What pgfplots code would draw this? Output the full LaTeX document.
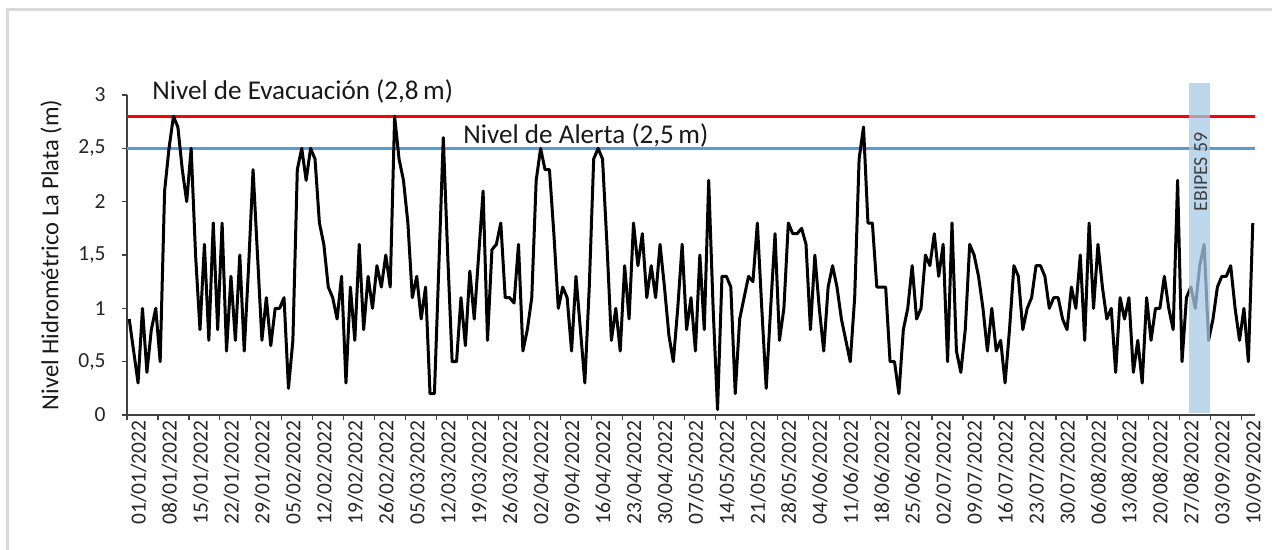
\documentclass[border=0pt]{standalone}
\usepackage{pgfplots}
\usepackage{pgfplotstable}
\pgfplotsset{compat=1.18}
\usepackage{fontspec}
\setmainfont{Carlito}
\definecolor{evac}{RGB}{255,0,0}
\definecolor{alert}{RGB}{91,155,213}
\definecolor{band}{RGB}{167,202,232}
\definecolor{frame}{RGB}{217,217,217}
\pgfplotstableread{
d v
0 0.9
1 0.6
2 0.3
3 1.0
4 0.4
5 0.8
6 1.0
7 0.5
8 2.1
9 2.5
10 2.8
11 2.7
12 2.3
13 2.0
14 2.5
15 1.5
16 0.8
17 1.6
18 0.7
19 1.8
20 0.8
21 1.8
22 0.6
23 1.3
24 0.7
25 1.5
26 0.6
27 1.4
28 2.3
29 1.5
30 0.7
31 1.1
32 0.65
33 1.0
34 1.0
35 1.1
36 0.25
37 0.7
38 2.3
39 2.5
40 2.2
41 2.5
42 2.4
43 1.8
44 1.6
45 1.2
46 1.1
47 0.9
48 1.3
49 0.3
50 1.2
51 0.7
52 1.6
53 0.8
54 1.3
55 1.0
56 1.4
57 1.2
58 1.5
59 1.2
60 2.8
61 2.4
62 2.2
63 1.8
64 1.1
65 1.3
66 0.9
67 1.2
68 0.2
69 0.2
70 1.4
71 2.6
72 1.5
73 0.5
74 0.5
75 1.1
76 0.65
77 1.35
78 0.9
79 1.5
80 2.1
81 0.7
82 1.55
83 1.6
84 1.8
85 1.1
86 1.1
87 1.05
88 1.6
89 0.6
90 0.8
91 1.1
92 2.2
93 2.5
94 2.3
95 2.3
96 1.7
97 1.0
98 1.2
99 1.1
100 0.6
101 1.3
102 0.8
103 0.3
104 1.2
105 2.4
106 2.5
107 2.4
108 1.6
109 0.7
110 1.0
111 0.6
112 1.4
113 0.9
114 1.8
115 1.4
116 1.7
117 1.1
118 1.4
119 1.1
120 1.6
121 1.2
122 0.75
123 0.5
124 1.0
125 1.6
126 0.8
127 1.1
128 0.6
129 1.5
130 0.8
131 2.2
132 1.0
133 0.05
134 1.3
135 1.3
136 1.2
137 0.2
138 0.9
139 1.1
140 1.3
141 1.25
142 1.8
143 1.0
144 0.25
145 1.0
146 1.7
147 0.7
148 1.0
149 1.8
150 1.7
151 1.7
152 1.75
153 1.6
154 0.8
155 1.5
156 1.0
157 0.6
158 1.2
159 1.4
160 1.2
161 0.9
162 0.7
163 0.5
164 1.1
165 2.4
166 2.7
167 1.8
168 1.8
169 1.2
170 1.2
171 1.2
172 0.5
173 0.5
174 0.2
175 0.8
176 1.0
177 1.4
178 0.9
179 1.0
180 1.5
181 1.4
182 1.7
183 1.3
184 1.6
185 0.5
186 1.8
187 0.6
188 0.4
189 0.8
190 1.6
191 1.5
192 1.3
193 1.0
194 0.6
195 1.0
196 0.6
197 0.7
198 0.3
199 0.8
200 1.4
201 1.3
202 0.8
203 1.0
204 1.1
205 1.4
206 1.4
207 1.3
208 1.0
209 1.1
210 1.1
211 0.9
212 0.8
213 1.2
214 1.0
215 1.5
216 0.7
217 1.8
218 1.0
219 1.6
220 1.2
221 0.9
222 1.0
223 0.4
224 1.1
225 0.9
226 1.1
227 0.4
228 0.7
229 0.3
230 1.1
231 0.7
232 1.0
233 1.0
234 1.3
235 1.0
236 0.8
237 2.2
238 0.5
239 1.1
240 1.2
241 1.0
242 1.4
243 1.6
244 0.7
245 0.9
246 1.2
247 1.3
248 1.3
249 1.4
250 1.0
251 0.7
252 1.0
253 0.5
254 1.8
}\nivel
\begin{document}
\begin{tikzpicture}
\useasboundingbox (-63.5bp,-67.5bp) rectangle (572.5bp,207.5bp);
\fill[white] (-63.5bp,-67.5bp) rectangle (572.5bp,207.5bp);
\draw[frame, line width=1.5bp] (-59.5bp,-120bp) rectangle (700bp,202.5bp);
\begin{axis}[
  at={(0,0)}, anchor=south west,
  scale only axis, width=564bp, height=160bp,
  xmin=0, xmax=255, ymin=0, ymax=3,
  axis x line*=bottom, axis y line*=left,
  axis line style={black!75, line width=0.6bp},
  tick align=outside, major tick length=2.5bp,
  tick style={black!75, line width=0.6bp},
  xtick={0,7,...,252},
  xticklabels={01/01/2022,08/01/2022,15/01/2022,22/01/2022,29/01/2022,05/02/2022,12/02/2022,19/02/2022,26/02/2022,05/03/2022,12/03/2022,19/03/2022,26/03/2022,02/04/2022,09/04/2022,16/04/2022,23/04/2022,30/04/2022,07/05/2022,14/05/2022,21/05/2022,28/05/2022,04/06/2022,11/06/2022,18/06/2022,25/06/2022,02/07/2022,09/07/2022,16/07/2022,23/07/2022,30/07/2022,06/08/2022,13/08/2022,20/08/2022,27/08/2022,03/09/2022,10/09/2022},
  xticklabel style={rotate=90, anchor=east, inner sep=0pt, xshift=0bp, yshift=-5.8bp, font=\fontsize{10.8}{12}\selectfont, text=black!85},
  ytick={0,0.5,1,1.5,2,2.5,3},
  yticklabels={0,{0,5},1,{1,5},2,{2,5},3},
  yticklabel style={anchor=east, inner sep=0pt, xshift=-8bp, font=\fontsize{10.8}{12}\selectfont, text=black!85},
  clip=false,
]
\addplot[evac, line width=1.3bp] coordinates {(0,2.8) (255,2.8)};
\addplot[alert, line width=1.3bp] coordinates {(0,2.5) (255,2.5)};
\addplot[black, line width=1.5bp, line join=round] table[x expr=\thisrow{d}+0.5, y=v] {\nivel};
\fill[band, fill opacity=0.75] (axis cs:240.1,0.016) rectangle (axis cs:244.8,3.11);
\node[rotate=90, anchor=base, inner sep=0pt, font=\fontsize{10}{12}\selectfont, text=black!75] at (axis cs:244.2,2.28) {EBIPES 59};
\node[anchor=base west, inner sep=0pt, font=\fontsize{13.6}{15}\selectfont, text=black!90] at (axis cs:5.65,2.96) {Nivel de Evacuación (2,8\,m)};
\node[anchor=base west, inner sep=0pt, font=\fontsize{13.6}{15}\selectfont, text=black!90] at (axis cs:75.97,2.547) {Nivel de Alerta (2,5\,m)};
\node[rotate=90, anchor=base, inner sep=0pt, font=\fontsize{12.3}{14}\selectfont, text=black!90] at (axis description cs:-0.0609,0.5) {Nivel Hidrométrico La Plata (m)};
\end{axis}
\end{tikzpicture}
\end{document}
